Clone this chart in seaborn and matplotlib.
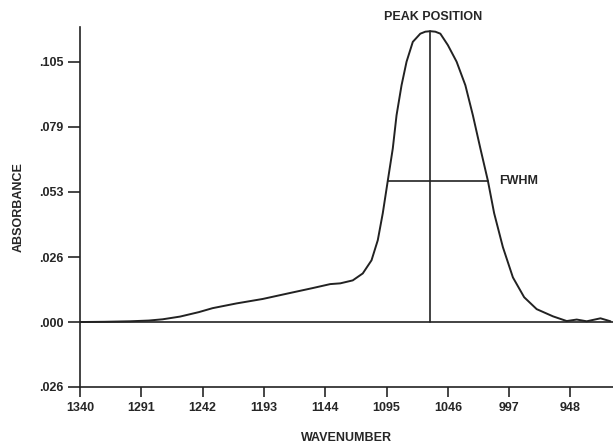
import numpy as np
import pandas as pd
import matplotlib
matplotlib.use("Agg")
import matplotlib.pyplot as plt
import seaborn as sns

# spectrum
wavenumber = [1340, 1320, 1300, 1285, 1274, 1260, 1245, 1234, 1215, 1194,
              1175, 1154, 1140, 1132, 1122, 1114, 1107, 1102, 1098, 1094,
              1090, 1087, 1083, 1079, 1074, 1068, 1064, 1060, 1056, 1052,
              1046, 1039, 1032, 1026, 1020, 1014, 1009, 1002, 994, 985,
              975, 962, 951, 943, 935, 924, 916]
absorbance = [0.0000, 0.0001, 0.0003, 0.0006, 0.0011, 0.0022, 0.0040, 0.0056, 0.0075, 0.0093,
              0.0114, 0.0137, 0.0153, 0.0156, 0.0168, 0.0196, 0.0249, 0.0330, 0.0439, 0.0570,
              0.0700, 0.0834, 0.0955, 0.1050, 0.1130, 0.1163, 0.1171, 0.1173, 0.1171, 0.1163,
              0.1117, 0.1050, 0.0955, 0.0834, 0.0700, 0.0570, 0.0439, 0.0302, 0.0180, 0.0100,
              0.0052, 0.0023, 0.0004, 0.0010, 0.0003, 0.0015, 0.0003]

peak_pos = 1060
peak_abs = 0.1173
half_abs = 0.057
fwhm_left, fwhm_right = 1094, 1014

x_ticks = [1340, 1291, 1242, 1193, 1144, 1095, 1046, 997, 948]
y_ticks = [-0.0262, 0.0, 0.0262, 0.0525, 0.0787, 0.105]
y_ticklabels = [".026", ".000", ".026", ".053", ".079", ".105"]

sns.set_style("ticks")
plt.rcParams["font.family"] = ["Liberation Sans", "DejaVu Sans"]
plt.rcParams["font.weight"] = "bold"

df = pd.DataFrame({"wavenumber": wavenumber, "absorbance": absorbance})

fig = plt.figure(figsize=(6.13, 4.46), dpi=100)
ax = fig.add_axes([0.1305, 0.1323, 0.8695, 0.8072])

sns.lineplot(data=df, x="wavenumber", y="absorbance", color="#222222",
             linewidth=1.4, sort=False, ax=ax)

# baseline, peak position and FWHM markers
ax.axhline(0, color="#222222", linewidth=1.2)
ax.plot([peak_pos, peak_pos], [0, peak_abs], color="#222222", linewidth=1.2)
ax.plot([fwhm_left, fwhm_right], [half_abs, half_abs], color="#222222", linewidth=1.2)
ax.text(peak_pos - 2, peak_abs + 0.0035, "PEAK POSITION", ha="center", va="bottom",
        fontsize=9, fontweight="bold")
ax.text(fwhm_right - 9, half_abs, "FWHM", ha="left", va="center",
        fontsize=9, fontweight="bold")

ax.set_xlim(1340, 914)
ax.set_ylim(-0.0262, 0.119)
ax.set_xticks(x_ticks)
ax.set_xticklabels([str(t) for t in x_ticks], fontsize=9, fontweight="bold")
ax.set_yticks(y_ticks)
ax.set_yticklabels(y_ticklabels, fontsize=9, fontweight="bold")
ax.tick_params(axis="y", length=9, width=1.2, pad=3)
ax.tick_params(axis="x", length=7, width=1.2, pad=4)

ax.set_xlabel("WAVENUMBER", fontsize=9, fontweight="bold", labelpad=13)
ax.set_ylabel("ABSORBANCE", fontsize=9, fontweight="bold", labelpad=10)

sns.despine(ax=ax)
for side in ["left", "bottom"]:
    ax.spines[side].set_linewidth(1.2)
    ax.spines[side].set_color("#222222")

fig.savefig("out.png", dpi=100)
